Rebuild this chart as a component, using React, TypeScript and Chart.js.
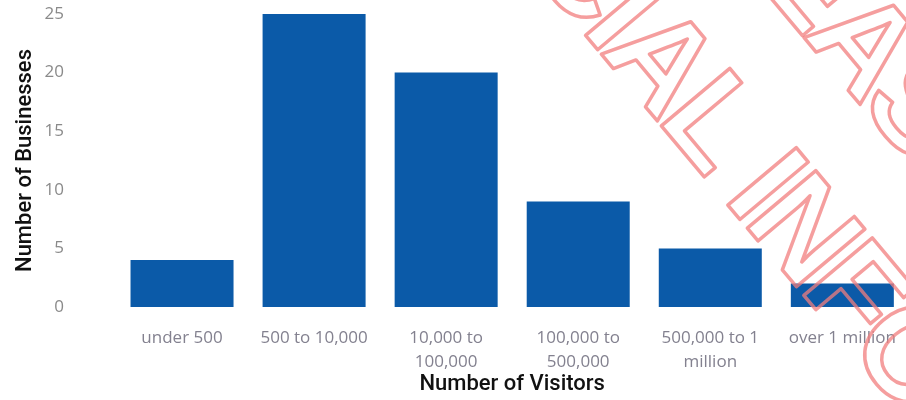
import { useEffect, useRef } from "react";
import { Chart, registerables } from "chart.js";

Chart.register(...registerables);

// ---- data ----
const categories: string[][] = [
  ["under 500"],
  ["500 to 10,000"],
  ["10,000 to", "100,000"],
  ["100,000 to", "500,000"],
  ["500,000 to 1", "million"],
  ["over 1 million"],
];
const businesses: number[] = [4, 25, 20, 9, 5, 2];
const yMax = 25;
const yStep = 5;
const xTitle = "Number of Visitors";
const yTitle = "Number of Businesses";
const watermarkLines: string[] = ["RELEASED UNDER THE", "OFFICIAL INFORMATION ACT"];

const W = 915;
const H = 400;

const watermarkPlugin = {
  id: "watermark",
  afterDraw(chart: any) {
    const ctx = chart.ctx as any;
    const size = 130;
    ctx.save();
    ctx.font = `bold ${size}px "Liberation Sans", Arial, sans-serif`;
    try {
      ctx.letterSpacing = "-6px";
    } catch (e) {}
    ctx.strokeStyle = "rgba(242, 125, 125, 0.75)";
    ctx.lineWidth = 3.5;
    ctx.lineJoin = "round";
    ctx.textBaseline = "alphabetic";
    ctx.translate(732, 210);
    ctx.rotate((50 * Math.PI) / 180);
    // line 2: centre the "I" of INFORMATION on the origin
    const pre2 = ctx.measureText("OFFICIAL ").width;
    const iW = ctx.measureText("I").width;
    ctx.strokeText(watermarkLines[1], -pre2 - iW / 2, 0);
    // line 1: place the "A" of RELEASED
    const pre1 = ctx.measureText("RELE").width;
    const aW = ctx.measureText("A").width;
    ctx.strokeText(watermarkLines[0], -45 - pre1 - aW / 2, -166);
    ctx.restore();
  },
};

export default function App() {
  const ref = useRef<HTMLCanvasElement | null>(null);

  useEffect(() => {
    document.body.style.margin = "0";
    document.body.style.overflow = "hidden";
    document.body.style.background = "#ffffff";
    const canvas = ref.current;
    if (!canvas) return;
    const chart = new Chart(canvas, {
      type: "bar",
      data: {
        labels: categories,
        datasets: [
          {
            data: businesses,
            backgroundColor: "#0b5aa8",
            borderWidth: 0,
            barPercentage: 0.78,
            categoryPercentage: 1,
          },
        ],
      },
      options: {
        responsive: false,
        animation: false,
        devicePixelRatio: 1,
        layout: { padding: { top: 14, left: 0, right: 0, bottom: 0 } },
        plugins: {
          legend: { display: false },
          tooltip: { enabled: false },
        },
        scales: {
          x: {
            grid: { display: false, drawTicks: false },
            border: { display: false },
            ticks: {
              color: "#83818f",
              font: { family: '"Open Sans", sans-serif', size: 17, lineHeight: 1.4 },
              padding: 19,
              maxRotation: 0,
              autoSkip: false,
            },
            title: {
              display: true,
              text: xTitle,
              color: "#111111",
              font: { family: "Roboto, sans-serif", size: 22, weight: "500" },
              padding: { top: 0, bottom: 2 },
            },
            afterFit(scale: any) {
              scale.height = 93;
            },
          },
          y: {
            min: 0,
            max: yMax,
            grid: { display: false, drawTicks: false },
            border: { display: false },
            ticks: {
              stepSize: yStep,
              color: "#8a8a8a",
              font: { family: '"Open Sans", sans-serif', size: 17 },
              padding: 52,
            },
            title: {
              display: true,
              text: yTitle,
              color: "#111111",
              font: { family: "Roboto, sans-serif", size: 22, weight: "500" },
              padding: { top: 12, bottom: 0 },
            },
            afterFit(scale: any) {
              scale.width = 116;
              scale.paddingTop = 10;
              scale.paddingBottom = 10;
            },
          },
        },
      },
      plugins: [watermarkPlugin],
    });
    return () => chart.destroy();
  }, []);

  return (
    <div style={{ width: W, height: H, position: "relative" }}>
      <canvas ref={ref} width={W} height={H} style={{ display: "block" }} />
    </div>
  );
}
